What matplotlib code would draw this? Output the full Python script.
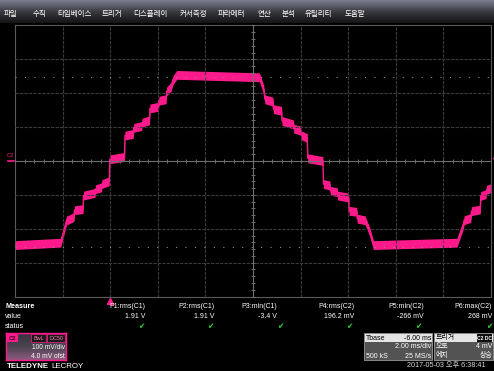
import numpy as np
import matplotlib
matplotlib.use('Agg')
import matplotlib.pyplot as plt
from matplotlib.patches import Rectangle
from matplotlib.lines import Line2D
from matplotlib.colors import LinearSegmentedColormap

plt.rcParams['font.family'] = ['Liberation Sans', 'Noto Sans CJK KR', 'DejaVu Sans']

W, H = 494, 371
PINK = '#ff1a8c'

# menu bar
menu_items = ['파일', '수직', '타임베이스', '트리거', '디스플레이', '커서측정',
              '파라메터', '연산', '분석', '유틸리티', '도움말']

# C2 trace, time in ms (trigger = 0), level in mV
t_ms = [-4.0, -2.08, -1.82, -1.80, -1.52, -1.50, -1.14, -1.12, -0.63, -0.62,
        -0.36, -0.35, -0.04, -0.02, 0.60, 0.62, 0.97, 0.99, 1.32, 1.34,
        1.65, 1.67, 2.03, 2.05, 2.35, 2.37, 2.55, 2.65, 2.80, 6.27,
        6.45, 6.50, 6.84, 6.86, 7.20, 7.22, 7.70, 7.72, 8.00, 8.02,
        8.28, 8.30, 8.94, 8.96, 9.23, 9.25, 9.54, 9.56, 10.02, 10.04,
        10.36, 10.38, 10.71, 10.92, 11.06, 14.57, 14.85, 14.87, 15.15, 15.18,
        15.55, 15.57, 15.79, 15.81, 16.0]
v_mv = [-248, -241, -172, -175, -165, -145, -142, -102, -94, -83,
        -78, -68, -60, 5, 12, 75, 80, 98, 103, 113,
        120, 155, 160, 178, 182, 205, 218, 240, 254, 247,
        211, 182, 175, 153, 148, 118, 108, 95, 90, 76,
        68, 8, 0, -68, -72, -88, -92, -102, -108, -147,
        -150, -170, -175, -212, -248, -241, -185, -175, -168, -148,
        -143, -103, -98, -85, -80]
cursor_levels = [247, -253]

# measurement table
param_labels = ['P1:rms(C1)', 'P2:rms(C1)', 'P3:min(C1)', 'P4:rms(C2)', 'P5:min(C2)', 'P6:max(C2)']
param_values = ['1.91 V', '1.91 V', '-3.4 V', '196.2 mV', '-266 mV', '268 mV']


def fx(x):
    return x / W


def fy(y):
    return 1 - y / H


def rect(x0, y0, x1, y1, **kw):
    fig.add_artist(Rectangle((fx(x0), fy(y1)), (x1 - x0) / W, (y1 - y0) / H,
                             transform=fig.transFigure, **kw))


def txt(x, y, s, **kw):
    kw.setdefault('color', 'white')
    kw.setdefault('fontsize', 5)
    kw.setdefault('va', 'center')
    fig.text(fx(x), fy(y), s, **kw)


fig = plt.figure(figsize=(W / 100, H / 100), dpi=100, facecolor='black')

# menu bar with gradient
mb = fig.add_axes([0, fy(23), 1, 23 / H])
cm = LinearSegmentedColormap.from_list('menu', ['#7c7e8e', '#3a3a42', '#141414'])
mb.imshow(np.linspace(0, 1, 60)[:, None], aspect='auto', cmap=cm, extent=[0, 1, 0, 1])
mb.axis('off')
menu_x = [4, 33, 57, 102, 133, 180, 218, 257, 282, 305, 345]
for x, s in zip(menu_x, menu_items):
    txt(x, 14.5, s, fontsize=5.4)

# scope screen
ax = fig.add_axes([fx(15), fy(296.6), 476 / W, (296.6 - 25.4) / H])
ax.set_facecolor('black')
ax.set_xlim(-4, 16)
ax.set_ylim(-400, 400)
ax.set_xticks([])
ax.set_yticks([])
for sp in ax.spines.values():
    sp.set_visible(False)

for t in np.arange(-4, 16.1, 2):
    edge = t in (-4, 16)
    ax.axvline(t, color='#5a5a5a' if edge else '#3a3a3a', lw=0.8,
               ls='-' if edge else (0, (3, 1)), clip_on=False)
for v in np.arange(-400, 401, 100):
    edge = v in (-400, 400)
    ax.axhline(v, color='#5a5a5a' if edge else '#3a3a3a', lw=0.8,
               ls='-' if edge else (0, (3, 1)), clip_on=False)
ax.axhline(0, color='#6e6e6e', lw=0.8)
ax.axvline(6, color='#6e6e6e', lw=0.8)
mt = np.arange(-4, 16.01, 0.4)
ax.plot(mt, np.zeros_like(mt), '|', color='#6e6e6e', ms=3, mew=0.7)
mv = np.arange(-400, 401, 20)
ax.plot(np.full_like(mv, 6.0, dtype=float), mv, '_', color='#6e6e6e', ms=3, mew=0.7)

for lv in cursor_levels:
    ax.axhline(lv, color='#8a8a8a', lw=0.8, ls=(0, (1, 7.5)))

tv = np.array(t_ms)
vv = np.array(v_mv, dtype=float)
ax.fill_between(tv, vv - 13, vv + 13, color=PINK, lw=0)
ax.plot(tv, vv, color=PINK, lw=1)

# trigger markers
ax.plot([0], [-414], marker='^', color=PINK, ms=4, clip_on=False)
ax.plot([16.15], [8], marker='<', color=PINK, ms=3, clip_on=False)

# channel label on the left
txt(7, 155, 'C2', color=PINK, fontsize=4.2)
fig.add_artist(Line2D([fx(8), fx(14)], [fy(160.5), fy(160.5)], color=PINK, lw=1.2,
                      transform=fig.transFigure))

# measurement table
txt(5, 307, 'Measure', fontweight='bold', fontsize=5.2)
txt(5, 317, 'value')
txt(5, 327, 'status')
label_x = [145, 214, 277, 354, 424, 492]
check_x = [144, 213, 283, 352, 421, 492]
for lx, cx, lab, val in zip(label_x, check_x, param_labels, param_values):
    txt(lx, 307, lab, ha='right')
    txt(lx, 317, val, ha='right')
    txt(cx, 327, '✔', ha='right', color='#2ed82e', fontsize=5.5, family='DejaVu Sans')

# C2 channel box
cb = fig.add_axes([fx(6), fy(360), 60 / W, 27 / H])
cm2 = LinearSegmentedColormap.from_list('c2', ['#38343e', '#4a4450', '#8e5a7e'])
cb.imshow(np.linspace(0, 1, 40)[:, None], aspect='auto', cmap=cm2, extent=[0, 1, 0, 1])
cb.set_xticks([])
cb.set_yticks([])
for sp in cb.spines.values():
    sp.set_color(PINK)
    sp.set_linewidth(1)
rect(7, 334, 18, 342, facecolor=PINK, edgecolor='none')
txt(12.5, 338, 'C2', ha='center', color='#3a0020', fontsize=4.2, fontweight='bold')
rect(31, 334, 46, 342, facecolor='#1a1a1a', edgecolor=PINK, lw=0.5)
txt(38.5, 338, 'BwL', ha='center', color='#ff7ab8', fontsize=4)
rect(47, 334, 65, 342, facecolor='#1a1a1a', edgecolor=PINK, lw=0.5)
txt(56, 338, 'DC50', ha='center', color='#ff7ab8', fontsize=4)
txt(65, 347.5, '100 mV/div', ha='right', fontsize=4.8)
txt(65, 356.5, '4.0 mV ofst', ha='right', fontsize=4.8)

# logo
txt(7, 366, 'TELEDYNE', fontweight='bold', fontsize=5.7)
txt(51, 366, 'LECROY', fontsize=5.7)

# timebase box
rect(364, 333, 432, 360, facecolor='#535353', edgecolor='#9a9a9a', lw=0.6)
rect(364.5, 333.5, 431.5, 342, facecolor='#e4e4e4', edgecolor='none')
txt(366, 338, 'Tbase', color='black')
txt(431, 338, '-6.00 ms', color='black', ha='right')
txt(431, 347, '2.00 ms/div', ha='right')
txt(366, 356, '500 kS')
txt(431, 356, '25 MS/s', ha='right')

# trigger box
rect(434, 333, 493, 360, facecolor='#535353', edgecolor='#9a9a9a', lw=0.6)
rect(434.5, 333.5, 492.5, 342, facecolor='#e4e4e4', edgecolor='none')
txt(436, 338, '트리거', color='black')
rect(477, 334, 492, 341.5, facecolor='#101010', edgecolor='none')
txt(484.5, 338, 'C2 DC', ha='center', fontsize=3.6, fontweight='bold')
txt(436, 347, '오토')
txt(492, 347, '4 mV', ha='right')
txt(436, 356, '에지')
txt(492, 356, '상승', ha='right')

txt(407, 366, '2017-05-03 오후 6:38:41', color='#d8d8d8', fontsize=5.2)

fig.savefig('out.png', dpi=100, facecolor='black')
